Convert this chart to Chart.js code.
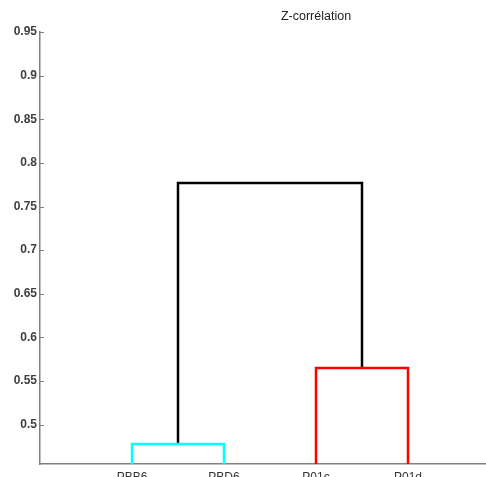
<!DOCTYPE html>
<html>
<head>
<meta charset="utf-8">
<script src="https://cdn.jsdelivr.net/npm/chart.js@4/dist/chart.umd.min.js"></script>
<style>
  html, body { margin: 0; padding: 0; background: #fff; overflow: hidden; }
  #wrap { width: 486px; height: 477px; overflow: hidden; position: relative; }
  canvas { display: block; }
</style>
</head>
<body>
<div id="wrap"><canvas id="dendro" width="500" height="490"></canvas></div>
<script>
// leaves in dendrogram order
const leafLabels = ['PBB6', 'PBD6', 'P01c', 'P01d'];
const leafPos = [1, 2, 3, 4];

// links: x of left/right legs, base of each leg, merge height
const linkLeftX = [1, 3, 1.5];
const linkRightX = [2, 4, 3.5];
const linkLeftBase = [0, 0, 0.478];
const linkRightBase = [0, 0, 0.565];
const linkHeight = [0.478, 0.565, 0.777];
const linkColor = ['#00ffff', '#ff0000', '#000000'];

const yTicks = [0.5, 0.55, 0.6, 0.65, 0.7, 0.75, 0.8, 0.85, 0.9, 0.95];
const yMin = 0.455, yMax = 0.95;
const xMin = 0, xMax = 5;
const titleText = 'Z-corrélation';

const datasets = linkHeight.map((h, i) => ({
  data: [
    { x: linkLeftX[i], y: linkLeftBase[i] },
    { x: linkLeftX[i], y: h },
    { x: linkRightX[i], y: h },
    { x: linkRightX[i], y: linkRightBase[i] },
  ],
  borderColor: linkColor[i],
  borderWidth: 2.5,
  pointRadius: 0,
  tension: 0,
  fill: false,
}));

// MATLAB-style inward tick marks + title
const matlabDecor = {
  id: 'matlabDecor',
  afterDraw(chart) {
    const ctx = chart.ctx;
    const y = chart.scales.y;
    const x = chart.scales.x;
    ctx.save();
    ctx.strokeStyle = '#808080';
    ctx.lineWidth = 1;
    yTicks.forEach(v => {
      const py = Math.round(y.getPixelForValue(v)) + 0.5;
      ctx.beginPath();
      ctx.moveTo(x.left, py);
      ctx.lineTo(x.left + 4, py);
      ctx.stroke();
    });
    ctx.fillStyle = '#222';
    ctx.font = '12.5px "Liberation Sans", Arial, sans-serif';
    ctx.textAlign = 'center';
    ctx.textBaseline = 'middle';
    ctx.fillText(titleText, 316, 17);
    ctx.restore();
  }
};

new Chart(document.getElementById('dendro'), {
  type: 'line',
  data: { datasets },
  options: {
    responsive: false,
    animation: false,
    layout: { padding: { top: 32, left: 0, right: 0, bottom: 0 } },
    plugins: { legend: { display: false }, tooltip: { enabled: false }, title: { display: false } },
    scales: {
      x: {
        type: 'linear',
        min: xMin,
        max: xMax,
        afterBuildTicks: s => { s.ticks = leafPos.map(v => ({ value: v })); },
        afterFit: s => { s.height = 26; },
        grid: { display: false, drawTicks: false },
        border: { display: true, color: '#808080', width: 1.5 },
        ticks: {
          padding: 6,
          maxRotation: 0,
          color: '#333',
          font: { family: '"Liberation Sans", Arial, sans-serif', size: 12 },
          callback: v => leafLabels[leafPos.indexOf(v)] ?? '',
        },
      },
      y: {
        type: 'linear',
        min: yMin,
        max: yMax,
        afterBuildTicks: s => { s.ticks = yTicks.map(v => ({ value: v })); },
        afterFit: s => { s.width = 40; },
        grid: { display: false, drawTicks: false },
        border: { display: true, color: '#808080', width: 1.5 },
        ticks: {
          padding: 3,
          color: '#404040',
          font: { family: '"Liberation Sans", Arial, sans-serif', size: 12, weight: 'bold' },
          callback: v => String(Math.round(v * 100) / 100),
        },
      },
    },
  },
  plugins: [matlabDecor],
});
</script>
</body>
</html>
